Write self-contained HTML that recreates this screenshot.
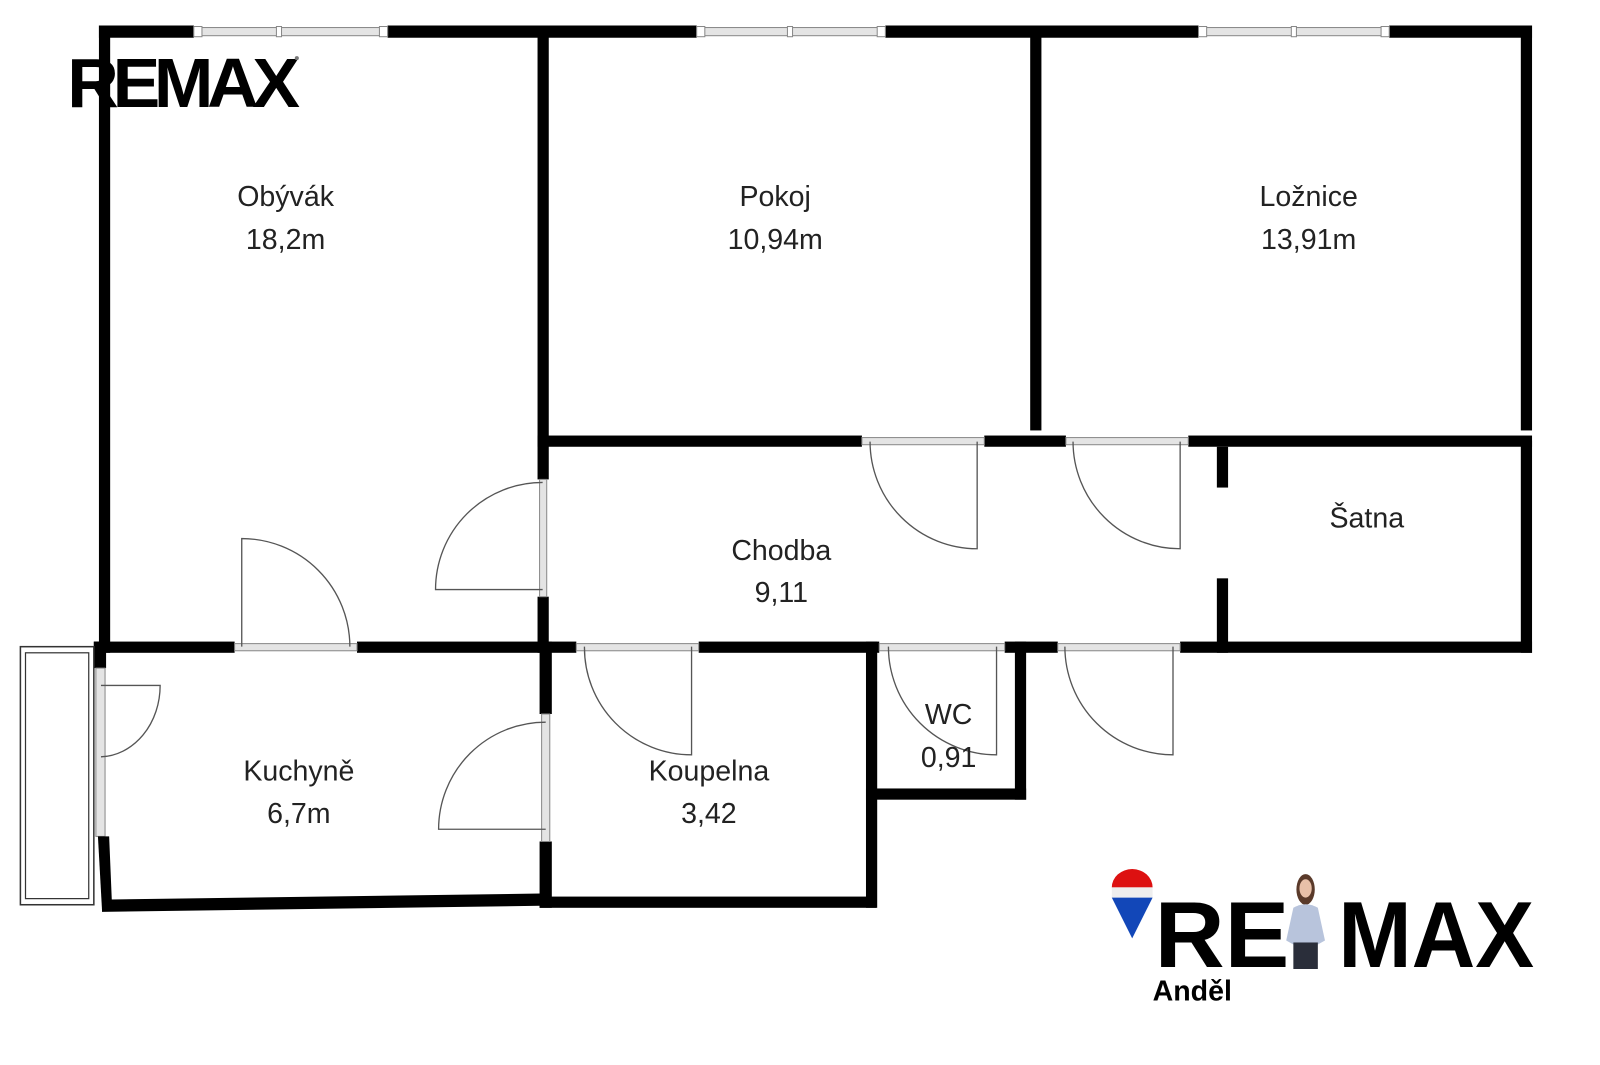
<!DOCTYPE html>
<html><head><meta charset="utf-8"><style>
html,body{margin:0;padding:0;background:#fff;width:1600px;height:1065px;overflow:hidden}
svg{display:block}
.t{font-family:"Liberation Sans",sans-serif;font-size:28px;fill:#222;text-anchor:middle}
.w{fill:#000}
.d{fill:none;stroke:#555;stroke-width:1.3}
.win{fill:#e4e4e4;stroke:#888;stroke-width:1}
</style></head><body>
<svg width="1600" height="1065" viewBox="0 0 1600 1065" xmlns="http://www.w3.org/2000/svg">
<g transform="scale(1.02)">
<!-- top wall -->
<rect class="w" x="97" y="25" width="93" height="12"/>
<rect class="w" x="380" y="25" width="303" height="12"/>
<rect class="w" x="868" y="25" width="307" height="12"/>
<rect class="w" x="1362" y="25" width="140" height="12"/>
<!-- top windows -->
<g class="win"><rect x="190" y="27" width="190" height="8"/><rect x="683" y="27" width="185" height="8"/><rect x="1175" y="27" width="187" height="8"/></g>
<g fill="#fff" stroke="#888"><rect x="190" y="26" width="8" height="10"/><rect x="372" y="26" width="8" height="10"/><rect x="271" y="26" width="5" height="10"/>
<rect x="683" y="26" width="8" height="10"/><rect x="860" y="26" width="8" height="10"/><rect x="772" y="26" width="5" height="10"/>
<rect x="1175" y="26" width="8" height="10"/><rect x="1354" y="26" width="8" height="10"/><rect x="1266" y="26" width="5" height="10"/></g>
<!-- left & right outer -->
<rect class="w" x="97" y="25" width="11" height="615"/>
<rect class="w" x="1491" y="25" width="11" height="397"/>
<rect class="w" x="1491" y="432" width="11" height="208"/>
<!-- interior verticals -->
<rect class="w" x="527" y="25" width="11" height="445"/>
<rect class="w" x="527" y="585" width="11" height="55"/>
<rect class="win" x="529" y="470" width="7" height="115"/>
<rect class="w" x="1010" y="25" width="11" height="397"/>
<!-- hallway top wall -->
<rect class="w" x="527" y="427" width="318" height="11"/>
<rect class="w" x="965" y="427" width="80" height="11"/>
<rect class="w" x="1165" y="427" width="337" height="11"/>
<rect class="win" x="845" y="429" width="120" height="7"/><rect class="win" x="1045" y="429" width="120" height="7"/>
<!-- satna wall -->
<rect class="w" x="1193" y="438" width="11" height="40"/>
<rect class="w" x="1193" y="567" width="11" height="73"/>
<!-- middle horizontal wall -->
<rect class="w" x="92" y="629" width="138" height="11"/>
<rect class="w" x="350" y="629" width="215" height="11"/>
<rect class="w" x="685" y="629" width="177" height="11"/>
<rect class="w" x="985" y="629" width="52" height="11"/>
<rect class="w" x="1157" y="629" width="345" height="11"/>
<g class="win"><rect x="230" y="631" width="120" height="7"/><rect x="565" y="631" width="120" height="7"/><rect x="862" y="631" width="123" height="7"/><rect x="1037" y="631" width="120" height="7"/></g>
<!-- kitchen -->
<rect class="w" x="92" y="629" width="12" height="26"/>
<rect class="win" x="94" y="655" width="9" height="165"/>
<polygon class="w" points="96,820 107,820 110,892 100,892"/>
<polygon class="w" points="100,882 530,876 530,888 100,894"/>
<rect class="w" x="529" y="629" width="12" height="71"/>
<rect class="w" x="529" y="825" width="12" height="65"/>
<rect class="win" x="531" y="700" width="8" height="125"/>
<!-- koupelna -->
<rect class="w" x="529" y="879" width="330" height="11"/>
<rect class="w" x="849" y="629" width="11" height="261"/>
<!-- wc -->
<rect class="w" x="849" y="773" width="157" height="11"/>
<rect class="w" x="995" y="629" width="11" height="155"/>
<!-- balcony -->
<rect x="20" y="634" width="72" height="253" fill="none" stroke="#333" stroke-width="1.5"/>
<rect x="25" y="640" width="62" height="241" fill="none" stroke="#333" stroke-width="1.2"/>
<!-- doors -->
<path class="d" d="M237,634 V528 A106,106 0 0 1 343,634"/>
<path class="d" d="M532,578 H427 A105,105 0 0 1 532,473"/>
<path class="d" d="M958,433 V538 A105,105 0 0 1 853,433"/>
<path class="d" d="M1157,433 V538 A105,105 0 0 1 1052,433"/>
<path class="d" d="M678,634 V740 A105,105 0 0 1 573,634"/>
<path class="d" d="M977,634 V740 A106,106 0 0 1 871,634"/>
<path class="d" d="M1150,634 V740 A106,106 0 0 1 1044,634"/>
<path class="d" d="M535,813 H430 A105,105 0 0 1 535,708"/>
<path class="d" d="M99,672 H157 A60,70 0 0 1 99,742"/>
<!-- labels -->
<text class="t" x="280" y="202">Obývák</text><text class="t" x="280" y="244">18,2m</text>
<text class="t" x="760" y="202">Pokoj</text><text class="t" x="760" y="244">10,94m</text>
<text class="t" x="1283" y="202">Ložnice</text><text class="t" x="1283" y="244">13,91m</text>
<text class="t" x="766" y="549">Chodba</text><text class="t" x="766" y="590">9,11</text>
<text class="t" x="1340" y="517">Šatna</text>
<text class="t" x="293" y="765">Kuchyně</text><text class="t" x="293" y="807">6,7m</text>
<text class="t" x="695" y="765">Koupelna</text><text class="t" x="695" y="807">3,42</text>
<text class="t" x="930" y="710">WC</text><text class="t" x="930" y="752">0,91</text>
<!-- top-left logo -->
<text x="66" y="105" font-family="Liberation Sans,sans-serif" font-weight="bold" font-size="68" letter-spacing="-6" textLength="222" lengthAdjust="spacingAndGlyphs" fill="#000">REMAX</text>
<circle cx="291" cy="57" r="2" fill="#777"/>
<!-- bottom-right logo -->
<path d="M1090,870 A20,18 0 0 1 1130,870 Z" fill="#d11"/>
<rect x="1090" y="870" width="40" height="10" fill="#eee"/>
<path d="M1090,880 H1130 L1110,920 Z" fill="#1247b8"/>
<text x="1132" y="948" font-family="Liberation Sans,sans-serif" font-weight="bold" font-size="92" textLength="132" lengthAdjust="spacingAndGlyphs" fill="#000">RE</text>
<text x="1312" y="948" font-family="Liberation Sans,sans-serif" font-weight="bold" font-size="92" textLength="192" lengthAdjust="spacingAndGlyphs" fill="#000">MAX</text>
<ellipse cx="1280" cy="872" rx="9" ry="15" fill="#5a3a2a"/>
<ellipse cx="1280" cy="871" rx="6" ry="9" fill="#e8c0a8"/>
<path d="M1268,890 Q1280,883 1292,890 L1299,922 L1292,926 L1268,926 L1261,922 Z" fill="#b8c4dc"/>
<rect x="1268" y="924" width="24" height="26" fill="#2a2e3a"/>
<text x="1130" y="981" font-family="Liberation Sans,sans-serif" font-weight="bold" font-size="28" fill="#000">Anděl</text>
</g>
</svg>
</body></html>
